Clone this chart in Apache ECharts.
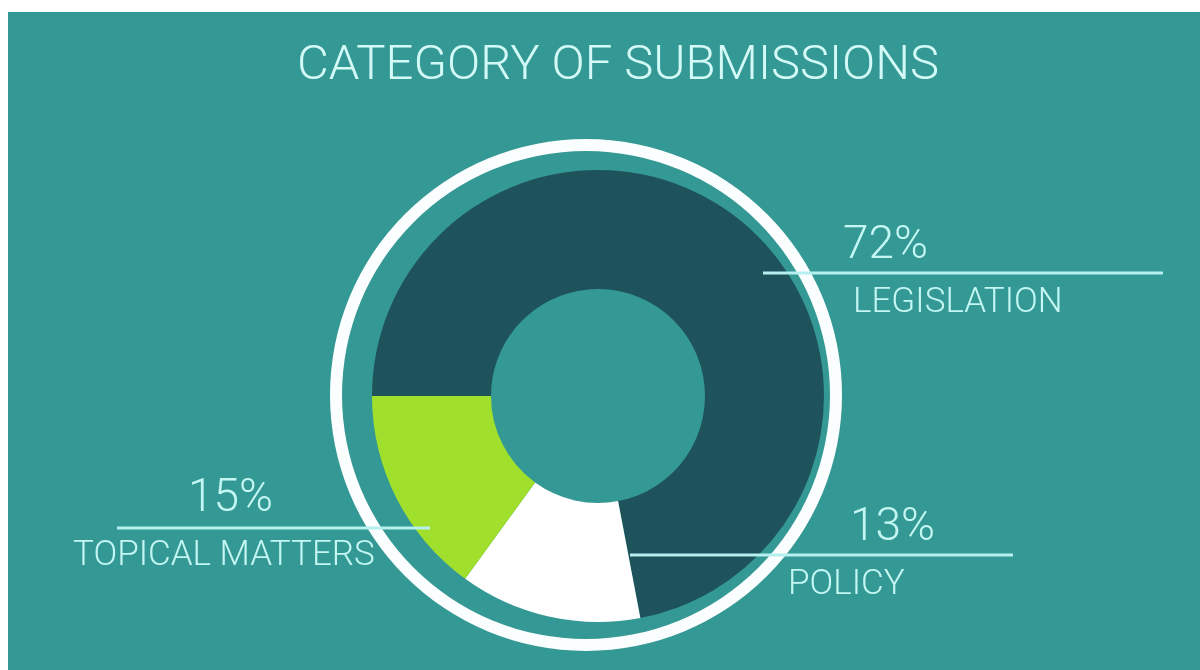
<!DOCTYPE html>
<html>
<head>
<meta charset="utf-8">
<title>Category of submissions</title>
<script src="https://cdn.jsdelivr.net/npm/echarts@6/dist/echarts.min.js"></script>
<style>
  html, body { margin: 0; padding: 0; background: #ffffff; }
  #main { position: absolute; left: 8px; top: 12px; width: 1192px; height: 658px; }
</style>
</head>
<body>
<div id="main"></div>
<script>
  var categories = ['LEGISLATION', 'POLICY', 'TOPICAL MATTERS'];
  var shares = [72, 13, 15];
  var percentLabels = ['72%', '13%', '15%'];

  var sliceColors = ['#1f535c', '#ffffff', '#a0e02c'];
  var textColor = '#c4f6f3';
  var lineColor = '#b6f0ee';

  // where each label sits: text left edge, indents of the two rows, guide line
  var labelSpots = [
    { x: 835, y: 206, pIndent: 0, nIndent: 10, x1: 755, x2: 1155, lineY: 261 },
    { x: 780, y: 488, pIndent: 62, nIndent: 0, x1: 622, x2: 1005, lineY: 543 },
    { x: 65, y: 459, pIndent: 115, nIndent: 0, x1: 109, x2: 422, lineY: 516 }
  ];

  var font = 'Roboto';
  var donutCenter = [590, 384];
  var donutRadius = [107, 226];

  var sliceData = categories.map(function (name, i) {
    return { name: name, value: shares[i], itemStyle: { color: sliceColors[i] } };
  });

  // same slices again, transparent, only to carry labels and lines on top
  var labelData = categories.map(function (name, i) {
    var s = labelSpots[i];
    return {
      name: name,
      value: shares[i],
      label: {
        formatter: '{p|' + percentLabels[i] + '}\n{n|' + name + '}',
        rich: {
          p: { fontFamily: font, fontWeight: 300, fontSize: 46, lineHeight: 56, color: textColor, padding: [0, 0, 0, s.pIndent] },
          n: { fontFamily: font, fontWeight: 300, fontSize: 35, lineHeight: 58, color: textColor, padding: [0, 0, 0, s.nIndent] }
        }
      }
    };
  });

  var myChart = echarts.init(document.getElementById('main'));
  var option = {
    backgroundColor: '#349995',
    animation: false,
    title: {
      text: 'CATEGORY OF SUBMISSIONS',
      left: 284,
      top: 25,
      textStyle: {
        fontFamily: font,
        fontWeight: 300,
        fontSize: 49,
        color: '#d3faf7'
      }
    },
    series: [
      {
        // outer white ring
        type: 'pie',
        z: 1,
        silent: true,
        center: [578, 383],
        radius: [244, 256],
        label: { show: false },
        labelLine: { show: false },
        itemStyle: { color: '#fbfefe' },
        data: [{ name: 'ring', value: 1 }]
      },
      {
        type: 'pie',
        z: 2,
        silent: true,
        center: donutCenter,
        radius: donutRadius,
        startAngle: 180,
        clockwise: true,
        label: { show: false },
        labelLine: { show: false },
        data: sliceData
      },
      {
        type: 'pie',
        z: 3,
        silent: true,
        center: donutCenter,
        radius: donutRadius,
        startAngle: 180,
        clockwise: true,
        avoidLabelOverlap: false,
        itemStyle: { color: 'rgba(0,0,0,0)' },
        label: { show: true, position: 'outside' },
        labelLine: {
          show: true,
          lineStyle: { color: lineColor, width: 3 }
        },
        labelLayout: function (params) {
          var s = labelSpots[params.dataIndex];
          return {
            x: s.x,
            y: s.y,
            align: 'left',
            verticalAlign: 'top',
            labelLinePoints: [[s.x1, s.lineY], [(s.x1 + s.x2) / 2, s.lineY], [s.x2, s.lineY]]
          };
        },
        data: labelData
      }
    ]
  };
  myChart.setOption(option);
</script>
</body>
</html>
